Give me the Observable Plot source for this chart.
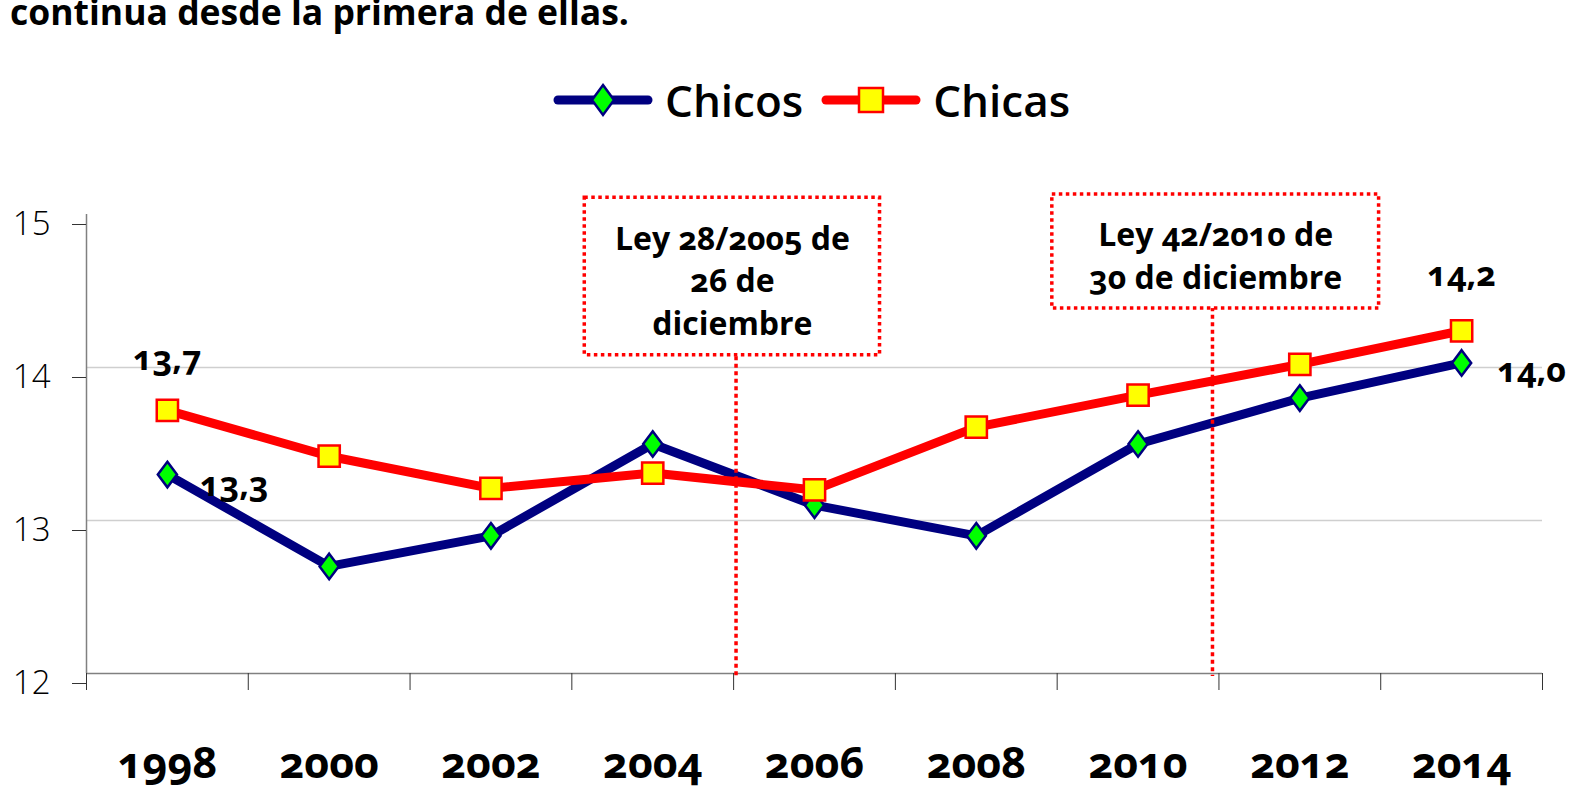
<!DOCTYPE html>
<html><head><meta charset="utf-8">
<script src="https://cdn.jsdelivr.net/npm/d3@7"></script>
<script src="https://cdn.jsdelivr.net/npm/@observablehq/plot@0.6"></script>
<style>
html,body{margin:0;padding:0;background:#fff;}
body{width:1571px;height:789px;overflow:hidden;position:relative;font-family:"Open Sans",Lato,sans-serif;font-variant-numeric:oldstyle-nums;}
#title{position:absolute;left:10px;top:-13px;font-size:35.5px;font-weight:700;color:#000;white-space:nowrap;line-height:48px;}
#legend{position:absolute;top:70px;left:553px;display:flex;align-items:center;font-size:44px;font-weight:600;color:#000;height:60px;}
#legend .item{display:flex;align-items:center;margin-right:18px;}
#legend svg{margin-right:12px;}
#chart{position:absolute;left:0;top:0;}
#logo{position:absolute;left:724px;top:6px;}
</style></head>
<body>
<div id="chart"></div>
<div id="title">continua desde la primera de ellas.</div>
<div id="legend"></div>
<script>
const years = [1998, 2000, 2002, 2004, 2006, 2008, 2010, 2012, 2014];
const chicos = [13.3, 12.7, 12.9, 13.5, 13.1, 12.9, 13.5, 13.8, 14.03];
const chicas = [13.72, 13.42, 13.21, 13.31, 13.2, 13.61, 13.82, 14.02, 14.24];
const seriesNames = ["Chicos", "Chicas"];
const yTicks = [12, 13, 14, 15];
const gridTicks = [13, 14];
const boundaryYears = [1997, 1999, 2001, 2003, 2005, 2007, 2009, 2011, 2013, 2015];
const lawYears = [2005.03, 2010.92];
const lawTexts = ["Ley 28/2005 de\n26 de\ndiciembre", "Ley 42/2010 de\n30 de diciembre"];
const labelTexts = ["13,7", "13,3", "14,2", "14,0"];

const colors = {Chicos: {line: "#000080", fill: "#00ff00"}, Chicas: {line: "#ff0000", fill: "#ffff00"}};

const diamond = {
  draw(ctx, size) {
    const s = Math.sqrt(size);
    const hh = 0.8 * s, hw = 0.6 * s;
    ctx.moveTo(0, -hh); ctx.lineTo(hw, 0); ctx.lineTo(0, hh); ctx.lineTo(-hw, 0); ctx.closePath();
  }
};

const rows = years.flatMap((y, i) => [
  {year: y, value: chicos[i], serie: "Chicos"},
  {year: y, value: chicas[i], serie: "Chicas"}
]);
const chicosRows = rows.filter(d => d.serie === "Chicos");
const chicasRows = rows.filter(d => d.serie === "Chicas");

// annotation boxes (geometry in data units around each law year)
const laws = [
  {x: lawYears[0], x1: lawYears[0] - 1.87, x2: lawYears[0] + 1.78, y1: 14.08, y2: 15.11, ty: 14.58, top: 14.07, text: lawTexts[0]},
  {x: lawYears[1], x1: lawYears[1] - 1.98, x2: lawYears[1] + 2.06, y1: 14.385, y2: 15.13, ty: 14.745, top: 14.39, text: lawTexts[1]}
];

const labels = [
  {year: years[0], value: chicas[0], text: labelTexts[0], dx: 0, dy: -51},
  {year: years[0], value: chicos[0], text: labelTexts[1], dx: 67, dy: 11},
  {year: years[8], value: chicas[8], text: labelTexts[2], dx: 0, dy: -56},
  {year: years[8], value: chicos[8], text: labelTexts[3], dx: 70, dy: 8}
];

const chart = Plot.plot({
  width: 1571, height: 789,
  marginLeft: 86, marginRight: 29, marginTop: 214, marginBottom: 116,
  x: {domain: [1997, 2015]},
  y: {domain: [12, 15]},
  style: {fontFamily: "'Open Sans', Lato, sans-serif", background: "transparent", overflow: "visible", color: "#000"},
  marks: [
    Plot.gridY(gridTicks, {stroke: "#cfcfcf", strokeOpacity: 1, strokeWidth: 1.5}),
    Plot.ruleY([12], {stroke: "#808080", strokeWidth: 1.5}),
    Plot.ruleX([1997], {stroke: "#808080", strokeWidth: 1.5}),
    Plot.axisY(yTicks, {tickSize: 14, tickPadding: 22, stroke: "#333", fontSize: 33, fontWeight: 300, dy: 10, label: null, tickFormat: d => String(d), fill: "#000"}),
    Plot.axisX(boundaryYears, {tickSize: 17, stroke: "#333", tickFormat: () => "", label: null}),
    Plot.axisX(years, {tickSize: 0, tickPadding: 74, fontSize: 43, fontWeight: 700, fontVariant: "oldstyle-nums", label: null, tickFormat: d => String(d), fill: "#000"}),
    Plot.line(chicosRows, {x: "year", y: "value", stroke: colors.Chicos.line, strokeWidth: 9, strokeLinejoin: "round"}),
    Plot.line(chicasRows, {x: "year", y: "value", stroke: colors.Chicas.line, strokeWidth: 9, strokeLinejoin: "round"}),
    Plot.ruleX(laws, {x: "x", y1: "top", y2: 11.98, stroke: "#ff0000", strokeWidth: 3.5, strokeDasharray: "4,3.5"}),
    Plot.rect(laws, {x1: "x1", x2: "x2", y1: "y1", y2: "y2", fill: "#fff", stroke: "#ff0000", strokeWidth: 3.5, strokeDasharray: "3.5,3.5"}),
    Plot.text(laws, {x: d => (d.x1 + d.x2) / 2, y: "ty", text: "text", fontSize: 32, fontWeight: 700, lineHeight: 1.34, fill: "#000"}),
    Plot.dot(chicosRows, {x: "year", y: "value", symbol: diamond, r: 9, fill: colors.Chicos.fill, stroke: colors.Chicos.line, strokeWidth: 2.5}),
    Plot.dot(chicasRows, {x: "year", y: "value", symbol: "square", r: 12, fill: colors.Chicas.fill, stroke: colors.Chicas.line, strokeWidth: 2.5}),
    Plot.text(labels, {x: "year", y: "value", text: "text", fontSize: 34, fontWeight: 700, fill: "#000"})
  ]
});
document.getElementById("chart").append(chart);

// per-label offsets
const svg = d3.select(chart);
const textGroups = svg.selectAll("g[aria-label='text']").nodes();
const lblGroup = textGroups[textGroups.length - 1];
d3.select(lblGroup).selectAll("text").each(function(_, i) {
  const l = labels[i];
  const t = d3.select(this);
  const tr = t.attr("transform") || "";
  t.attr("transform", tr + ` translate(${l.dx},${l.dy})`);
});

// legend
const legend = document.getElementById("legend");
seriesNames.forEach(name => {
  const item = document.createElement("div");
  item.className = "item";
  const s = d3.create("svg").attr("width", 100).attr("height", 36);
  s.append("line").attr("x1", 5).attr("x2", 95).attr("y1", 18).attr("y2", 18)
    .attr("stroke", colors[name].line).attr("stroke-width", 9).attr("stroke-linecap", "round");
  if (name === "Chicos") {
    s.append("path").attr("d", "M50,3 L61,18 L50,33 L39,18 Z").attr("fill", colors[name].fill).attr("stroke", colors[name].line).attr("stroke-width", 2.5);
  } else {
    s.append("rect").attr("x", 38).attr("y", 6).attr("width", 24).attr("height", 24).attr("fill", colors[name].fill).attr("stroke", colors[name].line).attr("stroke-width", 2.5);
  }
  item.append(s.node());
  const sp = document.createElement("span");
  sp.textContent = name;
  item.append(sp);
  legend.append(item);
});
</script>
</body></html>
